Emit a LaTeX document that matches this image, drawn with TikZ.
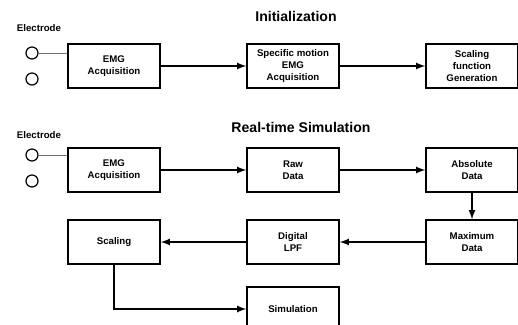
\documentclass[tikz,border=0pt]{standalone}
\usepackage{fontspec}
\setmainfont{Liberation Sans}
\definecolor{gris}{rgb}{0.45,0.45,0.45}
\usetikzlibrary{arrows}

\begin{document}
\begin{tikzpicture}[->, >=latex, node distance=3.58cm, line width=0.8pt] % thick
  \tikzstyle{every node}=[font=\fontsize{5.5}{6.6}\selectfont\bfseries]
  \tikzstyle{block}=[draw, rectangle, minimum width=1.84cm, minimum height=0.88cm, align=center, inner sep=1pt]
  \tikzstyle{elec}=[draw, circle, minimum size=0.24cm, inner sep=0pt, line width=0.7pt]
  \tikzstyle{title}=[font=\fontsize{8}{9.6}\selectfont\bfseries]

  \useasboundingbox (0,0) rectangle (10.36,-6.5);

  % Initialization
  \node[title] (TInit) at (5.92,-0.32) {Initialization};
  \node (EL1) at (0.78,-0.56) {Electrode};
  \node[elec] (C1a) at (0.64,-1.06) {};
  \node[elec] (C1b) at (0.64,-1.58) {};
  \node[block] (EMG1) at (2.28,-1.32) {EMG\\Acquisition};
  \node[block] (SPC) [right of=EMG1] {Specific motion\\EMG\\Acquisition};
  \node[block] (SFG) [right of=SPC]  {Scaling\\function\\Generation};

  % Real-time Simulation
  \node[title] (TReal) at (6.02,-2.54) {Real-time Simulation};
  \node (EL2) at (0.78,-2.7) {Electrode};
  \node[elec] (C2a) at (0.64,-3.1) {};
  \node[elec] (C2b) at (0.64,-3.62) {};
  \node[block] (EMG2) at (2.28,-3.4) {EMG\\Acquisition};
  \node[block] (RAW) [right of=EMG2] {Raw\\Data};
  \node[block] (ABS) [right of=RAW]  {Absolute\\Data};
  \node[block] (MAX) [below of=ABS, node distance=1.44cm] {Maximum\\Data};
  \node[block] (LPF) [left of=MAX]   {Digital\\LPF};
  \node[block] (SCL) [left of=LPF]   {Scaling};
  \node[block] (SIM) [below of=LPF, node distance=1.34cm] {Simulation};

  \draw[-, thin, gris] (C1a) -- (C1a -| EMG1.west);
  \draw[-, thin, gris] (C2a) -- (C2a -| EMG2.west);

  \path
	(EMG1) edge (SPC)
	(SPC)  edge (SFG)
	(EMG2) edge (RAW)
	(RAW)  edge (ABS)
	(ABS)  edge (MAX)
	(MAX)  edge (LPF)
	(LPF)  edge (SCL)
  ;
  \draw (SCL) |- (SIM);

\end{tikzpicture}
\end{document}
